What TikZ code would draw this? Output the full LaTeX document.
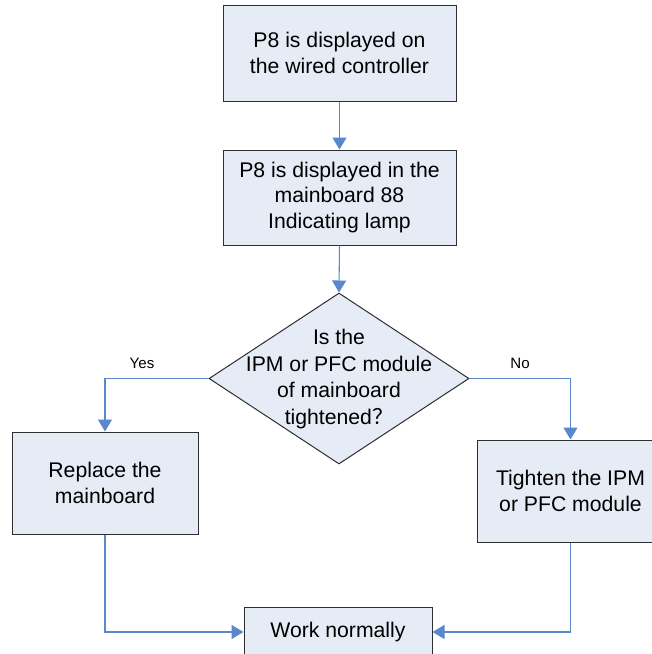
\documentclass[tikz,border=0pt]{standalone}
\usepackage{fontspec}
\setmainfont{Liberation Sans}
\newfontfamily\cjk{Noto Sans CJK SC}
\usetikzlibrary{arrows.meta,shapes.geometric}
\definecolor{boxfill}{HTML}{E6ECF6}
\definecolor{boxline}{HTML}{2E2E2E}
\definecolor{conn}{HTML}{5A86CC}
\tikzset{
  pbox/.style={draw=boxline, fill=boxfill, line width=0.75pt, align=center, inner sep=0pt,
    font=\fontsize{15.9}{18.9}\selectfont},
  dec/.style={draw=boxline, fill=boxfill, line width=0.75pt, shape=diamond, inner sep=0pt},
  lbl/.style={font=\fontsize{11.3}{13}\selectfont, inner sep=0pt},
  conn/.style={draw=conn, line width=0.8pt, -{Triangle[length=9pt, width=10.5pt]}}
}
\begin{document}
\begin{tikzpicture}[x=0.75pt, y=-0.75pt]
\useasboundingbox (0,0) rectangle (652,654);
\clip (0,0) rectangle (652,654);
\node[pbox, minimum width=174.75pt, minimum height=72pt] (b1) at (339.5,53)
  {P8 is displayed on\\the wired controller};
\node[pbox, minimum width=174.75pt, minimum height=71.25pt] (b2) at (339.5,197.5)
  {P8 is displayed in the\\mainboard 88\\Indicating lamp};
\node[dec, minimum width=195pt, minimum height=128.25pt] (d) at (339,378.5) {};
\node[align=center, font=\fontsize{15.9}{20}\selectfont, inner sep=0pt] (dt) at (339,379)
  {Is the\\IPM or PFC module\\of mainboard\\tightened{\cjk ？}};
\node[pbox, minimum width=139.5pt, minimum height=76.5pt] (b3) at (105,483)
  {Replace the\\mainboard};
\node[pbox, minimum width=139.5pt, minimum height=76.5pt] (b4) at (570.5,491)
  {Tighten the IPM\\or PFC module};
\node[pbox, minimum width=141pt, minimum height=37.5pt] (w) at (338,632)
  {Work normally};
\node[lbl] (yes) at (142,363) {Yes};
\node[lbl] (no) at (520,363) {No};
\draw[conn] (b1.south) -- (b2.north);
\draw[conn] (b2.south) -- (d.north);
\draw[conn] (d.west) -| (b3.north);
\draw[conn] (d.east) -| (b4.north);
\draw[conn] (b3.south) |- (w.west);
\draw[conn] (b4.south) |- (w.east);
\end{tikzpicture}
\end{document}
